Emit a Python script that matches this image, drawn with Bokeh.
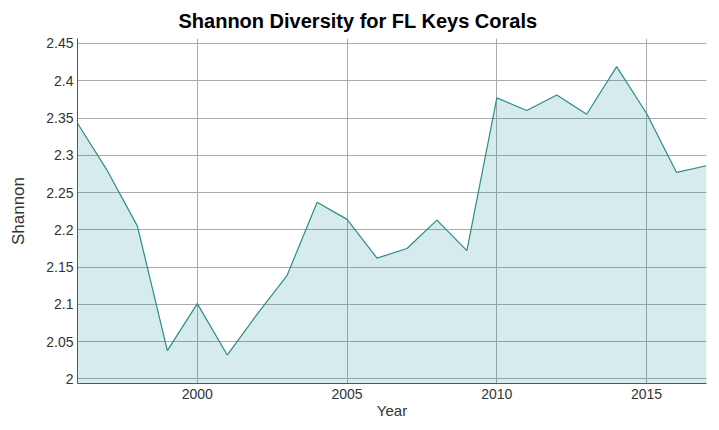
from bokeh.plotting import figure
from bokeh.models import FixedTicker, Range1d
from bokeh.embed import file_html
from bokeh.resources import INLINE

years = list(range(1996, 2018))
shannon = [2.343, 2.279, 2.205, 2.038, 2.101, 2.032, 2.087, 2.139, 2.237, 2.214,
           2.162, 2.175, 2.213, 2.172, 2.377, 2.360, 2.381, 2.355, 2.419, 2.356,
           2.277, 2.286]
y_ticks = [2.0, 2.05, 2.1, 2.15, 2.2, 2.25, 2.3, 2.35, 2.4, 2.45]
y_tick_labels = ["2", "2.05", "2.1", "2.15", "2.2", "2.25", "2.3", "2.35", "2.4", "2.45"]
x_ticks = [2000, 2005, 2010, 2015]

Y_MIN, Y_MAX = 1.9938, 2.4567
FONT = "Liberation Sans"

p = figure(width=711, height=425, output_backend="svg", toolbar_location=None,
           x_range=Range1d(1996, 2017), y_range=Range1d(Y_MIN, Y_MAX),
           min_border_left=77, min_border_right=5, min_border_top=38, min_border_bottom=42,
           title="Shannon Diversity for FL Keys Corals")
p.outline_line_color = None
p.background_fill_color = "white"

p.title.text_font = FONT
p.title.text_font_size = "20px"
p.title.text_font_style = "bold"
p.title.text_color = "#000000"
p.title.align = "left"
p.title.offset = 101
p.title.standoff = 13

p.varea(x=years, y1=[Y_MIN] * len(years), y2=shannon, fill_color="#008080", fill_alpha=0.16)
p.line(x=years, y=shannon, line_color="#2b8c8c", line_width=1.2)

p.xaxis.ticker = FixedTicker(ticks=x_ticks)
p.yaxis.ticker = FixedTicker(ticks=y_ticks)
p.yaxis.major_label_overrides = {t: l for t, l in zip(y_ticks, y_tick_labels)}
p.xaxis.axis_label = "Year"
p.yaxis.axis_label = "Shannon"

for ax in (p.xaxis, p.yaxis):
    ax.axis_line_color = "#555555"
    ax.axis_line_width = 1
    ax.major_tick_line_color = None
    ax.minor_tick_line_color = None
    ax.major_tick_out = 0
    ax.major_tick_in = 0
    ax.major_label_text_font = FONT
    ax.major_label_text_font_size = "14px"
    ax.major_label_text_color = "#333333"
    ax.axis_label_text_font = FONT
    ax.axis_label_text_font_style = "normal"
    ax.axis_label_text_color = "#333333"

p.xaxis.axis_label_text_font_size = "15px"
p.yaxis.axis_label_text_font_size = "17px"
p.xaxis.major_label_standoff = 5
p.xaxis.axis_label_standoff = 0
p.yaxis.major_label_standoff = 4
p.yaxis.axis_label_standoff = 15

p.xgrid.grid_line_color = "#aaaaaa"
p.ygrid.grid_line_color = "#aaaaaa"
p.xgrid.grid_line_width = 1
p.ygrid.grid_line_width = 1

open("out.html", "w").write(file_html(p, INLINE))
